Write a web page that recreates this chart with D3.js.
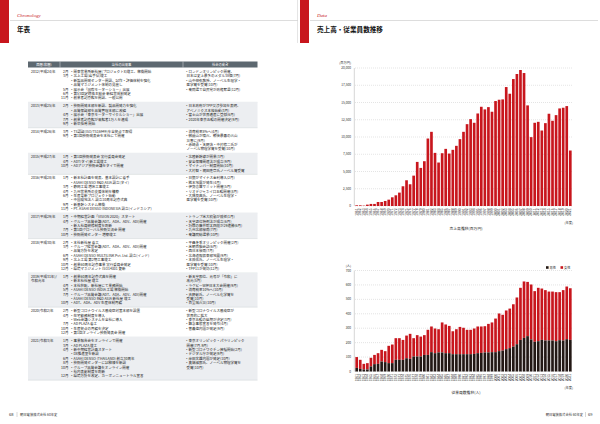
<!DOCTYPE html>
<html>
<head>
<meta charset="utf-8">
<script src="https://cdn.jsdelivr.net/npm/d3@7"></script>
<style>
  body { margin: 0; background: #fff; }
  svg { display: block; }
</style>
</head>
<body>
<div id="main"></div>
<script>
// ---- data ----
var years = ["1961","1962","1963","1964","1965","1966","1967","1968","1969","1970",
  "1971","1972","1973","1974","1975","1976","1977","1978","1979","1980",
  "1981","1982","1983","1984","1985","1986","1987","1988","1989","1990",
  "1991","1992","1993","1994","1995","1996","1997","1998","1999","2000",
  "2001","2002","2003","2004","2005","2006","2007","2008","2009","2010",
  "2011","2012","2013","2014","2015","2016","2017","2018","2019","2020","2021"];

// 売上高 (百万円)
var sales = [100,100,50,200,300,300,580,580,730,920,
  1260,1550,1940,2860,3730,3150,4400,6390,5520,6490,
  9780,10750,7700,6300,7650,8280,7600,8140,8720,9690,
  10750,11860,12590,12060,13410,14380,14000,14330,13660,15210,
  15400,15450,17240,16270,18400,19130,19710,19270,14580,9980,
  12060,12200,10940,12010,13370,12350,13170,14140,14240,14480,8040];

// 従業員数 (人)
var male = [25,18,14,14,35,51,53,69,65,58,
  58,81,81,81,92,88,104,104,104,115,
  115,134,127,132,132,127,127,120,120,120,
  120,120,120,122,127,129,132,132,134,134,
  141,145,155,162,173,189,219,233,245,222,
  206,210,219,215,215,215,210,217,215,224,219];
var total = [100,81,53,58,95,115,127,150,141,178,
  187,231,231,219,249,261,231,252,242,252,
  289,312,298,293,340,326,316,279,293,309,
  303,289,289,298,312,312,314,330,340,367,
  402,393,423,436,466,513,580,624,621,603,
  557,580,575,564,554,554,550,550,564,589,577];

var salesTicks = [0,2500,5000,7500,10000,12500,15000,17500,20000];
var staffTicks = [0,100,200,300,400,500,600,700];

// 年表
var chronoYears = [["2012(平成24)年"],["2013(平成25)年"],["2014(平成26)年"],["2015(平成27)年"],
  ["2016(平成28)年"],["2017(平成29)年"],["2018(平成30)年"],["2019(平成31年)/","令和元年"],
  ["2020(令和2)年"],["2021(令和3)年"]];

var chronoEvents = [
  [["2月","・関東営業所新社屋(プロジェクトX)竣工、稼働開始"],["3月","・北上工場(岩手県)竣工"],["","・新製品開発センター開設、試作・評価体制を強化"],["","・品質マネジメント体制の見直し"],["5月","・展示会「国際モーターショー」出展"],["6月","・第53回定時株主総会 新経営体制発足"],["11月","・創業者記念館を開設、一般公開"]],
  [["2月","・技術開発本部を新設、製品開発力を強化"],["","・品質保証部を品質管理本部に改組"],["4月","・展示会「東京モーターサイクルショー」出展"],["7月","・創業者記念館が来館者1万人を達成"],["9月","・新卒採用 開始"]],
  [["3月","・TS認証(ISO/TS16949)を全拠点で取得"],["9月","・第1回技術発表会を本社にて開催"]],
  [["1月","・第1回技術発表会 実行委員会発足"],["4月","・ADT(タイ)新工場竣工"],["10月","・ADアジア技術会議をタイで開催"]],
  [["1月","・新本社計画を発表、基本設計に着手"],["","・ASAHI DENSO R&D ASIA 設立(タイ)"],["3月","・静岡工場 増床工事竣工"],["4月","・九州営業所の支援体制を構築"],["6月","・生産革新プロジェクト始動"],["","・中国現地法人 設立10周年記念式典"],["9月","・新基幹システム稼働"],["11月","・PT. ASAHI DENSO INDONESIA 設立(インドネシア)"]],
  [["1月","・中期経営計画「VISION 2020」スタート"],["4月","・グループ品質会議(ADT、ADA、ADV、ADI)開催"],["","・新入社員研修制度を刷新"],["7月","・第1回グローバル技術交流会 開催"],["10月","・技術開発センター 増築竣工"]],
  [["2月","・本社新社屋 着工"],["3月","・グループ経営会議(ADT、ADA、ADV、ADI)開催"],["","・品質方針を改定"],["6月","・ASAHI DENSO MULTILINK Pvt. Ltd. 設立(インド)"],["9月","・北上工場 第2期工事竣工"],["10月","・創業60周年記念事業 実行委員会発足"],["12月","・環境マネジメント ISO14001 更新"]],
  [["1月","・創業60周年記念式典を開催"],["","・新本社社屋 竣工"],["4月","・本社移転、新社屋にて業務開始"],["5月","・ASAHI DENSO INDIA 工場 稼働開始"],["7月","・グループ品質会議(ADT、ADA、ADV、ADI)開催"],["","・ASAHI DENSO R&D ASIA 新社屋 竣工"],["10月","・ADT、ADA、ADV 生産体制再編"]],
  [["2月","・新型コロナウイルス感染症対策本部を設置"],["4月","・在宅勤務制度を導入"],["","・Web会議システムを全社に導入"],["7月","・AD PLAZA 着工"],["10月","・生産拠点の再編を決定"],["12月","・第1回オンライン技術発表会 開催"]],
  [["1月","・事業報告会をオンラインで開催"],["3月","・AD PLAZA 竣工"],["4月","・新中期経営計画スタート"],["","・DX推進室を新設"],["6月","・ASAHI DENSO (THAILAND) 創立30周年"],["8月","・技術開発センターに試験棟を新設"],["10月","・グループ品質会議をオンライン開催"],["","・社内表彰制度を刷新"],["12月","・環境方針を改定、カーボンニュートラル宣言"]]
];

var worldEvents = [
  ["・ロンドンオリンピック開催、","  日本は史上最多のメダル38個(7月)","・山中伸弥教授、ノーベル生理学・","  医学賞を受賞(10月)","・衆院選で自民党が政権奪還(12月)"],
  ["・日本政府がTPP交渉参加を表明、","  アベノミクス本格始動(3月)","・富士山が世界遺産に登録(6月)","・2020年東京五輪の開催決定(9月)"],
  ["・消費税率8%へ(4月)","・御嶽山が噴火、戦後最悪の火山","  災害に(9月)","・赤崎勇・天野浩・中村修二氏が","  ノーベル物理学賞を受賞(10月)"],
  ["・北陸新幹線が開業(3月)","・安全保障関連法が成立(9月)","・マイナンバー制度開始(10月)","・大村智・梶田隆章氏ノーベル賞受賞"],
  ["・日銀がマイナス金利導入(2月)","・熊本地震が発生(4月)","・伊勢志摩サミット開催(5月)","・リオデジャネイロ五輪開催(8月)","・大隅良典氏、ノーベル生理学・","  医学賞を受賞(10月)"],
  ["・トランプ米大統領が就任(1月)","・天皇退位特例法が成立(6月)","・将棋の藤井聡太四段が29連勝(6月)","・九州北部豪雨(7月)","・衆議院総選挙(10月)"],
  ["・平昌冬季オリンピック開催(2月)","・米朝首脳会談(6月)","・西日本豪雨(7月)","・北海道胆振東部地震(9月)","・本庶佑氏、ノーベル生理学・","  医学賞を受賞(10月)","・TPP11が発効(12月)"],
  ["・新天皇即位、元号が「令和」に","  改元(5月)","・ラグビーW杯日本大会開催(9月)","・消費税率10%へ(10月)","・吉野彰氏、ノーベル化学賞を","  受賞(10月)","・首里城火災(10月)"],
  ["・新型コロナウイルス感染症が","  世界的に拡大","・東京五輪の延期が決定(3月)","・緊急事態宣言を発令(4月)","・菅義偉内閣が発足(9月)"],
  ["・東京オリンピック・パラリンピック","  開催(7月-9月)","・新型コロナワクチン接種開始(2月)","・デジタル庁が発足(9月)","・岸田文雄内閣が発足(10月)","・真鍋淑郎氏、ノーベル物理学賞を","  受賞(10月)"]
];

var tableHeads = ["西暦(和暦)", "当社の出来事", "社会の動き"];

// ---- drawing ----
var red = "#c8161d";
var dark = "#231815";
var jp = "'Noto Sans CJK JP', 'Noto Sans', sans-serif";

var svg = d3.select("#main").append("svg")
    .attr("width", 600)
    .attr("height", 424)
    .attr("viewBox", "0 0 600 424");

// page headers
function pageHeader(x0, w, en, jpTitle) {
    svg.append("rect").attr("x", x0).attr("y", 0).attr("width", 9).attr("height", 43).attr("fill", red);
    svg.append("line").attr("x1", x0 + 10).attr("x2", x0 + w - 2).attr("y1", 20.5).attr("y2", 20.5)
        .attr("stroke", "#d4d4d4").attr("stroke-width", 0.8);
    svg.append("text").text(en).attr("x", x0 + 17).attr("y", 17)
        .attr("fill", red).attr("font-size", 5).attr("font-style", "italic")
        .attr("font-family", "'Liberation Serif', 'DejaVu Serif', serif");
    svg.append("text").text(jpTitle).attr("x", x0 + 17).attr("y", 32)
        .attr("fill", "#111").attr("font-size", 6.6).attr("font-weight", "bold")
        .attr("font-family", jp);
}
pageHeader(0, 300, "Chronology", "年表");
pageHeader(300, 300, "Data", "売上高・従業員数推移");
svg.append("line").attr("x1", 297.5).attr("x2", 297.5).attr("y1", 0).attr("y2", 43)
    .attr("stroke", "#d4d4d4").attr("stroke-width", 0.6);

// ---- chronology table ----
var tx0 = 28, tx1 = 257.5, c1 = 60, c2 = 183;
var lineH = 4.4, fs = 3.5;
svg.append("rect").attr("x", tx0).attr("y", 61.5).attr("width", tx1 - tx0).attr("height", 6)
    .attr("fill", "#5d6870");
[[tx0, c1], [c1, c2], [c2, tx1]].forEach(function(c, i) {
    svg.append("text").text(tableHeads[i]).attr("x", (c[0] + c[1]) / 2).attr("y", 65.9)
        .attr("text-anchor", "middle").attr("fill", "#fff").attr("font-size", 3.3).attr("font-family", jp);
});
svg.append("line").attr("x1", c1).attr("x2", c1).attr("y1", 61.5).attr("y2", 67.5).attr("stroke", "#fff").attr("stroke-width", 0.4);
svg.append("line").attr("x1", c2).attr("x2", c2).attr("y1", 61.5).attr("y2", 67.5).attr("stroke", "#fff").attr("stroke-width", 0.4);

var ry = 68;
for (var i = 0; i < chronoYears.length; i++) {
    var n = Math.max(chronoEvents[i].length, worldEvents[i].length);
    var h = n * lineH + 3.5;
    if (i % 2 == 1) {
        svg.append("rect").attr("x", tx0).attr("y", ry).attr("width", tx1 - tx0).attr("height", h)
            .attr("fill", "#eceef1");
    }
    svg.append("line").attr("x1", tx0).attr("x2", tx1).attr("y1", ry + h).attr("y2", ry + h)
        .attr("stroke", "#b9bec3").attr("stroke-width", 0.3);
    chronoYears[i].forEach(function(t, k) {
        svg.append("text").text(t).attr("x", 31).attr("y", ry + 5 + k * lineH)
            .attr("font-size", fs).attr("fill", "#222").attr("font-family", jp);
    });
    chronoEvents[i].forEach(function(ev, k) {
        svg.append("text").text(ev[0]).attr("x", 68.5).attr("y", ry + 5 + k * lineH)
            .attr("text-anchor", "end").attr("font-size", fs).attr("fill", "#222").attr("font-family", jp);
        svg.append("text").text(ev[1]).attr("x", 70).attr("y", ry + 5 + k * lineH)
            .attr("font-size", fs).attr("fill", "#222").attr("font-family", jp);
    });
    worldEvents[i].forEach(function(t, k) {
        svg.append("text").text(t).attr("x", 185).attr("y", ry + 5 + k * lineH)
            .attr("font-size", fs).attr("fill", "#222").attr("font-family", jp)
            .attr("xml:space", "preserve").style("white-space", "pre");
    });
    ry += h;
}

// ---- bar charts ----
var x = d3.scaleBand().domain(years).range([355, 572]).paddingInner(0.25).paddingOuter(0.1);

function frame(y, ticks, fmt, unit, yTop, yZero, labelY, title, titleY) {
    var g = svg.append("g");
    ticks.forEach(function(t) {
        g.append("line").attr("x1", 355).attr("x2", 572).attr("y1", y(t)).attr("y2", y(t))
            .attr("stroke", "#c9c9c9").attr("stroke-width", 0.5).attr("stroke-dasharray", "1,1");
        g.append("text").text(fmt(t)).attr("x", 351).attr("y", y(t) + 1.1)
            .attr("text-anchor", "end").attr("font-size", 3.2).attr("fill", "#333").attr("font-family", jp);
    });
    g.append("text").text(unit).attr("x", 351).attr("y", yTop - 4)
        .attr("text-anchor", "end").attr("font-size", 3.2).attr("fill", "#333").attr("font-family", jp);
    g.append("line").attr("x1", 354.3).attr("x2", 354.3).attr("y1", yTop).attr("y2", yZero)
        .attr("stroke", "#bbb").attr("stroke-width", 0.6);
    years.forEach(function(yr) {
        g.append("text").text(yr)
            .attr("transform", "translate(" + (x(yr) + x.bandwidth() / 2 + 1.1) + "," + (labelY) + ") rotate(-90)")
            .attr("text-anchor", "end").attr("font-size", 3.3).attr("fill", "#333")
            .attr("font-family", "'Liberation Sans', sans-serif");
    });
    g.append("text").text("(年度)").attr("x", 573).attr("y", labelY + 15)
        .attr("text-anchor", "end").attr("font-size", 3.2).attr("fill", "#333").attr("font-family", jp);
    g.append("text").text(title).attr("x", 466).attr("y", titleY)
        .attr("text-anchor", "middle").attr("font-size", 3.8).attr("fill", "#222").attr("font-family", jp);
}

// 売上高
var ySales = d3.scaleLinear().domain([0, 20000]).range([206, 68]);
frame(ySales, salesTicks, d3.format(","), "(百万円)", 68, 206, 208.5, "売上高推移(百万円)", 230);
svg.append("g").selectAll("rect").data(sales).join("rect")
    .attr("x", function(d, i) { return x(years[i]); })
    .attr("width", x.bandwidth())
    .attr("y", function(d) { return ySales(d); })
    .attr("height", function(d) { return ySales(0) - ySales(d); })
    .attr("fill", red);

// 従業員数
var yStaff = d3.scaleLinear().domain([0, 700]).range([371.5, 270.5]);
frame(yStaff, staffTicks, d3.format(","), "(人)", 270.5, 371.5, 374, "従業員数推移(人)", 394);
svg.append("g").selectAll("rect").data(total).join("rect")
    .attr("x", function(d, i) { return x(years[i]); })
    .attr("width", x.bandwidth())
    .attr("y", function(d, i) { return yStaff(d); })
    .attr("height", function(d, i) { return yStaff(male[i]) - yStaff(d); })
    .attr("fill", red);
svg.append("g").selectAll("rect").data(male).join("rect")
    .attr("x", function(d, i) { return x(years[i]); })
    .attr("width", x.bandwidth())
    .attr("y", function(d) { return yStaff(d); })
    .attr("height", function(d) { return yStaff(0) - yStaff(d); })
    .attr("fill", dark);

// legend
var legend = [["男性", dark], ["女性", red]];
legend.forEach(function(l, i) {
    var lx = 546 + i * 14.5;
    svg.append("rect").attr("x", lx).attr("y", 266.2).attr("width", 2.6).attr("height", 2.6).attr("fill", l[1]);
    svg.append("text").text(l[0]).attr("x", lx + 3.6).attr("y", 268.6)
        .attr("font-size", 3.2).attr("fill", "#222").attr("font-family", jp);
});

// ---- footers ----
function footer(num, numX, sepX, txt, txtX, anchor) {
    svg.append("text").text(num).attr("x", numX).attr("y", 416).attr("font-size", 4)
        .attr("fill", "#333").attr("font-family", "'Liberation Sans', sans-serif");
    svg.append("line").attr("x1", sepX).attr("x2", sepX).attr("y1", 412).attr("y2", 417)
        .attr("stroke", "#999").attr("stroke-width", 0.4);
    svg.append("text").text(txt).attr("x", txtX).attr("y", 415.8).attr("font-size", 3.3)
        .attr("text-anchor", anchor).attr("fill", "#333").attr("font-family", jp);
}
footer("68", 9, 17, "朝日電装株式会社 60年史", 20, "start");
footer("69", 588, 585.5, "朝日電装株式会社 60年史", 583, "end");
</script>
</body>
</html>
